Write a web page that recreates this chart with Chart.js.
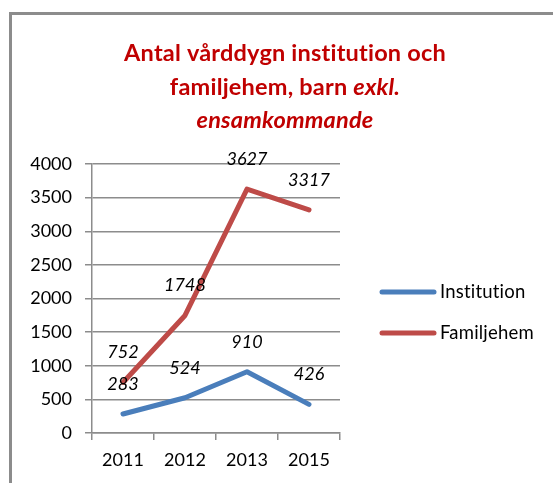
<!DOCTYPE html>
<html>
<head>
<meta charset="utf-8">
<script src="https://cdn.jsdelivr.net/npm/chart.js@4"></script>
<style>
  body { margin: 0; background: #fff; overflow: hidden; }
  #frame { position: absolute; left: 9px; top: 12px; width: 700px; height: 700px;
           border-left: 3px solid #8c8c8c; border-top: 3px solid #8c8c8c; }
  #wrap { position: absolute; left: 0; top: 0; width: 553px; height: 483px; }
</style>
</head>
<body>
<div id="frame"></div>
<div id="wrap"><canvas id="myChart" width="553" height="483"></canvas></div>
<script>
const years = ["2011", "2012", "2013", "2015"];
const institution = [283, 524, 910, 426];
const familjehem = [752, 1748, 3627, 3317];
const seriesNames = ["Institution", "Familjehem"];
const seriesColors = ["#4a7ebb", "#be4b48"];
const titleLines = [
  [["Antal vårddygn institution och", false]],
  [["familjehem, barn ", false], ["exkl.", true]],
  [["ensamkommande", true]]
];

const FONT = "Lato, 'Open Sans', sans-serif";

// title with mixed italic parts
const titlePlugin = {
  id: 'mixedTitle',
  afterDraw(chart) {
    const ctx = chart.ctx;
    ctx.save();
    ctx.letterSpacing = '0.2px'; // keeps Lato from joining "ti"
    ctx.fillStyle = '#c00000';
    ctx.textBaseline = 'middle';
    const ys = [53, 87, 120];
    titleLines.forEach((parts, i) => {
      let total = 0;
      parts.forEach(p => {
        ctx.font = (p[1] ? 'italic ' : '') + 'bold 23.5px ' + FONT;
        total += ctx.measureText(p[0]).width;
      });
      let x = 285 - total / 2;
      parts.forEach(p => {
        ctx.font = (p[1] ? 'italic ' : '') + 'bold 23.5px ' + FONT;
        ctx.textAlign = 'left';
        ctx.fillText(p[0], x, ys[i]);
        x += ctx.measureText(p[0]).width;
      });
    });
    ctx.restore();
  }
};

// value labels above each point
const labelPlugin = {
  id: 'valueLabels',
  afterDatasetsDraw(chart) {
    const ctx = chart.ctx;
    ctx.save();
    ctx.font = 'italic 18px ' + FONT;
    ctx.fillStyle = '#000';
    ctx.textAlign = 'center';
    ctx.textBaseline = 'middle';
    chart.data.datasets.forEach((ds, i) => {
      chart.getDatasetMeta(i).data.forEach((pt, j) => {
        ctx.fillText(ds.data[j], pt.x, pt.y - 30);
      });
    });
    ctx.restore();
  }
};

// legend on the right
const legendPlugin = {
  id: 'sideLegend',
  afterDraw(chart) {
    const ctx = chart.ctx;
    ctx.save();
    ctx.letterSpacing = '0.2px';
    const ys = [292, 333];
    chart.data.datasets.forEach((ds, i) => {
      ctx.strokeStyle = ds.borderColor;
      ctx.lineWidth = 5;
      ctx.lineCap = 'round';
      ctx.beginPath();
      ctx.moveTo(382, ys[i]);
      ctx.lineTo(434, ys[i]);
      ctx.stroke();
      ctx.fillStyle = '#000';
      ctx.font = '18.5px ' + FONT;
      ctx.textAlign = 'left';
      ctx.textBaseline = 'middle';
      ctx.fillText(ds.label, 440, ys[i]);
    });
    ctx.restore();
  }
};

const ctx = document.getElementById('myChart');
new Chart(ctx, {
  type: 'line',
  data: {
    labels: years,
    datasets: [
      { label: seriesNames[0], data: institution, borderColor: seriesColors[0], borderWidth: 5,
        pointRadius: 0, borderCapStyle: 'round', borderJoinStyle: 'round', tension: 0 },
      { label: seriesNames[1], data: familjehem, borderColor: seriesColors[1], borderWidth: 5,
        pointRadius: 0, borderCapStyle: 'round', borderJoinStyle: 'round', tension: 0 }
    ]
  },
  options: {
    responsive: false,
    animation: false,
    layout: { padding: { left: 0, top: 164, right: 213, bottom: 0 } },
    plugins: { legend: { display: false }, title: { display: false }, tooltip: { enabled: false } },
    scales: {
      x: {
        offset: true,
        grid: { offset: true, drawOnChartArea: false, drawTicks: true, tickLength: 7, color: '#8c8c8c', lineWidth: 1.5 },
        border: { color: '#8c8c8c', width: 1.5 },
        ticks: { color: '#000', font: { family: FONT, size: 18 }, padding: 9, maxRotation: 0 },
        afterFit(scale) { scale.height = 50; }
      },
      y: {
        min: 0, max: 4000,
        grid: { color: '#8c8c8c', lineWidth: 1.5, tickLength: 7 },
        border: { color: '#8c8c8c', width: 1.5 },
        ticks: { stepSize: 500, color: '#000', font: { family: FONT, size: 18 }, padding: 13,
                 callback: v => String(v) },
        afterFit(scale) { scale.width = 92; }
      }
    }
  },
  plugins: [titlePlugin, labelPlugin, legendPlugin]
});
</script>
</body>
</html>
